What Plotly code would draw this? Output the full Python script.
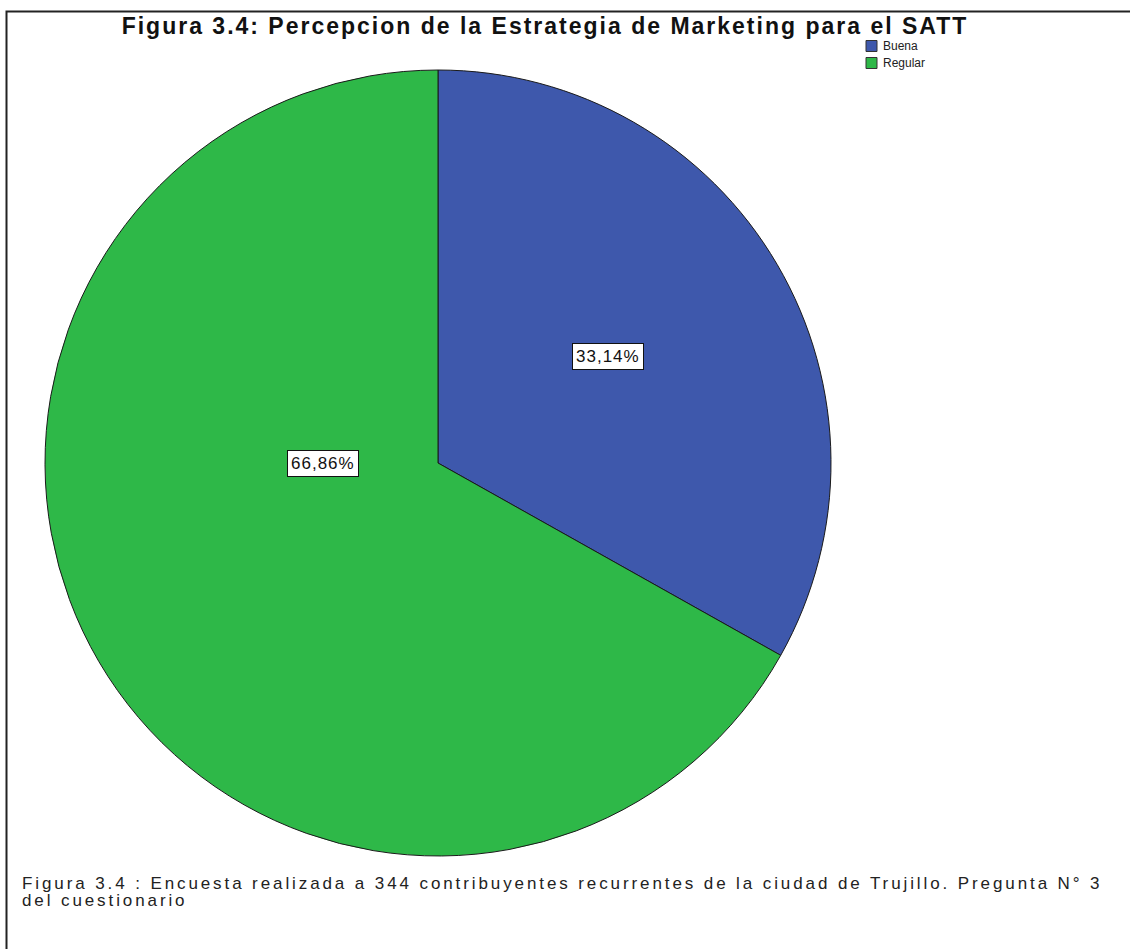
import math
import plotly.graph_objects as go

# Survey results: perception of the marketing strategy (344 respondents)
categories = ["Buena", "Regular"]
counts = [114, 230]
colors = ["#3E58AC", "#2EB848"]

W, H = 1130, 949
total = sum(counts)
pct = [c / total * 100 for c in counts]


def fmt_pct(v):
    return f"{v:.2f}".replace(".", ",") + "%"


def spaced(text, px):
    return f'<span style="letter-spacing:{px}px">{text}</span>'


SANS = "Liberation Sans, Arial, sans-serif"

# pie placement in pixels
cx, cy, R = 438, 463, 393

fig = go.Figure(
    go.Pie(
        labels=categories,
        values=counts,
        marker=dict(colors=colors, line=dict(color="#1a1a1a", width=1)),
        sort=False,
        direction="clockwise",
        rotation=0,
        textinfo="none",
        hoverinfo="label+percent",
        showlegend=False,
        domain=dict(x=[(cx - R) / W, (cx + R) / W], y=[1 - (cy + R) / H, 1 - (cy - R) / H]),
    )
)

# boxed percentage labels, placed along each slice's angle
label_spots = [(58, 0.51), (270, 0.385)]  # (angle from top, clockwise; radius fraction)
annotations = []
for p, (ang, rf) in zip(pct, label_spots):
    a = math.radians(ang)
    px = cx + rf * R * math.sin(a)
    py = cy - rf * R * math.cos(a)
    annotations.append(dict(
        x=px / W, y=1 - py / H, xref="paper", yref="paper",
        text=spaced(fmt_pct(p), 1), showarrow=False,
        font=dict(family=SANS, size=17, color="#111"),
        bgcolor="white", bordercolor="#111", borderwidth=1, borderpad=3,
    ))

# legend: colour swatches with category names
shapes = []
leg_x, leg_y0, leg_step, sw = 866, 46, 17, 11
for i, (name, col) in enumerate(zip(categories, colors)):
    yc = leg_y0 + i * leg_step
    shapes.append(dict(
        type="rect", xref="paper", yref="paper",
        x0=leg_x / W, x1=(leg_x + sw) / W,
        y0=1 - (yc + sw / 2) / H, y1=1 - (yc - sw / 2) / H,
        fillcolor=col, line=dict(color="#333", width=1),
    ))
    annotations.append(dict(
        x=(leg_x + sw + 4) / W, y=1 - yc / H, xref="paper", yref="paper",
        xanchor="left", yanchor="middle", text=name, showarrow=False,
        font=dict(family=SANS, size=12, color="#222"),
    ))

# caption below the pie
caption_font = dict(family=SANS, size=17, color="#222")
annotations.append(dict(
    x=20 / W, y=1 - 883 / H, xref="paper", yref="paper", xanchor="left", yanchor="middle",
    text=spaced("Figura 3.4 : Encuesta realizada a 344 contribuyentes recurrentes de la ciudad de Trujillo. Pregunta N° 3", 2.9),
    showarrow=False, font=caption_font,
))
annotations.append(dict(
    x=20 / W, y=1 - 900 / H, xref="paper", yref="paper", xanchor="left", yanchor="middle",
    text=spaced("del cuestionario", 2.9), showarrow=False, font=caption_font,
))

# outer frame (runs off the right and bottom edges)
shapes.append(dict(
    type="rect", xref="paper", yref="paper",
    x0=6.5 / W, x1=1.02, y0=-0.02, y1=1 - 11.5 / H,
    line=dict(color="#222", width=2), fillcolor="rgba(0,0,0,0)", layer="below",
))

fig.update_layout(
    width=W, height=H,
    margin=dict(l=0, r=0, t=0, b=0),
    paper_bgcolor="white", plot_bgcolor="white",
    showlegend=False,
    title=dict(
        text="<b>" + spaced("Figura 3.4: Percepcion de la Estrategia de Marketing para el SATT", 2) + "</b>",
        x=545 / W, xanchor="center", y=1 - 26 / H, yanchor="middle",
        font=dict(family=SANS, size=23, color="#111"),
    ),
    annotations=annotations,
    shapes=shapes,
)

fig.write_html("out.html")
